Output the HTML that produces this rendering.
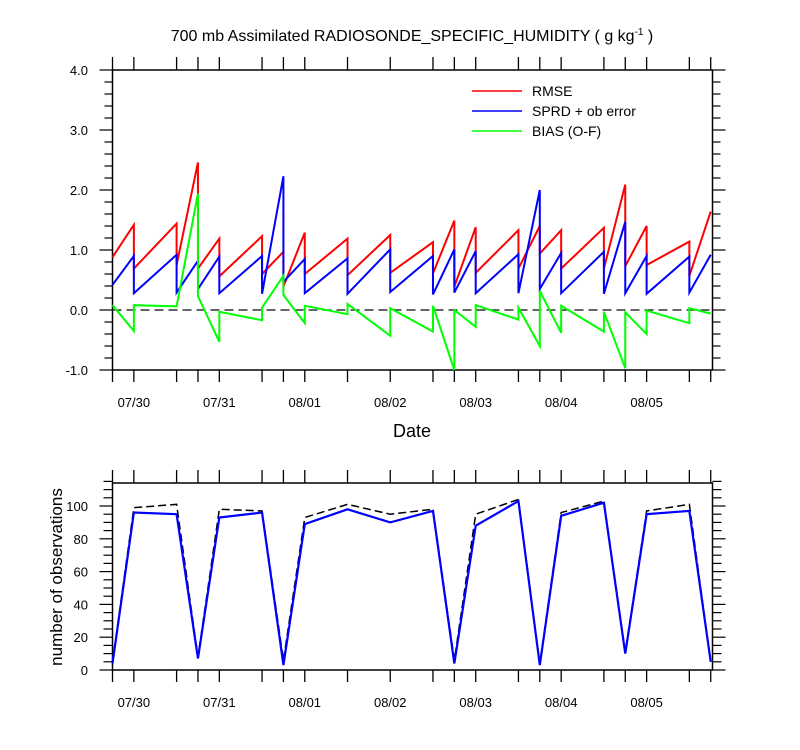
<!DOCTYPE html>
<html><head><meta charset="utf-8"><style>
html,body{margin:0;padding:0;background:#fff;}
svg{display:block;font-family:"Liberation Sans",sans-serif;}
</style></head><body>
<svg id="chart" width="800" height="750" xmlns="http://www.w3.org/2000/svg">
<text x="412" y="41" text-anchor="middle" font-size="16">700 mb Assimilated RADIOSONDE_SPECIFIC_HUMIDITY ( g kg<tspan dy="-6" font-size="10">-1</tspan><tspan dy="6"> )</tspan></text>
<g id="topchart"></g><g id="botchart"></g>
<text x="412" y="437" text-anchor="middle" font-size="18">Date</text>
<text transform="translate(62,577) rotate(-90)" text-anchor="middle" font-size="17">number of observations</text>
<g>
<line x1="472" y1="91" x2="522" y2="91" stroke="#f00" stroke-width="1.5"/><text x="532" y="96" font-size="14">RMSE</text>
<line x1="472" y1="111" x2="522" y2="111" stroke="#00f" stroke-width="1.5"/><text x="532" y="116" font-size="14">SPRD + ob error</text>
<line x1="472" y1="131" x2="522" y2="131" stroke="#0f0" stroke-width="1.5"/><text x="532" y="136" font-size="14">BIAS (O-F)</text>
</g>
</svg>
<script>
// hours since 07/29 18Z
const hours=[0,6,18,24,30,42,48,54,66,78,90,96,102,114,120,126,138,144,150,162,168];
const dateLabels=["07/30","07/31","08/01","08/02","08/03","08/04","08/05"];
const dateHours=[6,30,54,78,102,126,150];
// sawtooth: value at start and end of each interval
const rmseStart=[0.88,0.69,0.75,0.69,0.56,0.60,0.39,0.60,0.58,0.62,0.61,0.39,0.62,0.69,0.94,0.69,0.69,0.73,0.75,0.57];
const rmseEnd=[1.42,1.44,2.46,1.19,1.23,0.97,1.29,1.19,1.25,1.13,1.49,1.38,1.33,1.40,1.33,1.37,2.09,1.40,1.14,1.64];
const sprdStart=[0.42,0.28,0.29,0.35,0.28,0.27,0.47,0.28,0.27,0.30,0.26,0.29,0.28,0.28,0.35,0.28,0.27,0.28,0.27,0.29];
const sprdEnd=[0.90,0.92,0.82,0.89,0.90,2.23,0.85,0.86,1.01,0.90,1.01,0.98,0.93,2.00,0.95,0.97,1.47,0.90,0.89,0.92];
const biasStart=[0.08,0.08,0.06,0.23,-0.03,0.04,0.25,0.07,0.10,0.03,0.07,0.00,0.08,0.04,0.32,0.07,-0.03,-0.04,-0.01,0.03];
const biasEnd=[-0.35,0.06,1.94,-0.53,-0.17,0.57,-0.22,-0.07,-0.43,-0.36,-1.00,-0.28,-0.16,-0.60,-0.38,-0.36,-0.97,-0.40,-0.22,-0.06];
const obsUsed=[4,96,95,7,93,96,3,89,98,90,97,4,88,103,3,94,102,10,95,97,5];
const obsPoss=[5,99,101,8,98,97,6,93,101,95,98,6,95,104,4,96,103,11,97,101,5];
const topYTicks=["-1.0","0.0","1.0","2.0","3.0","4.0"];
const botYTicks=[0,20,40,60,80,100];

const NS="http://www.w3.org/2000/svg";
const X0=112.5,X1=712.5;
const xs=h=>X0+h*(X1-X0)/168.5;
const yT=v=>310-v*60;
const yB=v=>670-v*1.64;
function mk(p,tag,a){const e=document.createElementNS(NS,tag);for(const k in a)e.setAttribute(k,a[k]);p.appendChild(e);return e;}
const gTop=document.getElementById('topchart'),gBot=document.getElementById('botchart');

function frame(g,yTop,yBot,name){
  const r=mk(g,'rect',{x:X0,y:yTop,width:X1-X0,height:yBot-yTop,fill:'none',stroke:'#000','stroke-width':1.5});
  
  
  hours.forEach(h=>{
    const x=xs(h);
    mk(g,'line',{x1:x,y1:yTop,x2:x,y2:yTop-13,stroke:'#000','stroke-width':1.3});
    mk(g,'line',{x1:x,y1:yBot,x2:x,y2:yBot+12,stroke:'#000','stroke-width':1.3});
  });
  dateLabels.forEach((d,i)=>{
    const t=mk(g,'text',{x:xs(dateHours[i]),y:yBot+37,'text-anchor':'middle','font-size':13});
    
    
    t.textContent=d;
  });
}
// top chart
frame(gTop,70,370,'top-plot');
for(let k=0;k<=25;k++){
  const v=-1+k*0.2;
  const y=yT(v);const L=(k%5===0)?13:8;
  mk(gTop,'line',{x1:X0,y1:y,x2:X0-L,y2:y,stroke:'#000','stroke-width':1.2});
  mk(gTop,'line',{x1:X1,y1:y,x2:X1+L,y2:y,stroke:'#000','stroke-width':1.2});
}
topYTicks.forEach(s=>{
  const t=mk(gTop,'text',{x:88,y:yT(parseFloat(s))+5,'text-anchor':'end','font-size':13});
  
  
  t.textContent=s;
});
const zl=mk(gTop,'line',{x1:X0,y1:yT(0),x2:X1,y2:yT(0),stroke:'#333','stroke-width':1.5,'stroke-dasharray':'9,5'});


function saw(st,en,col,name){
  let d='';
  for(let i=0;i<st.length;i++){
    d+=(i?'L':'M')+xs(hours[i])+','+yT(st[i])+'L'+xs(hours[i+1])+','+yT(en[i]);
  }
  const p=mk(gTop,'path',{d:d,fill:'none',stroke:col,'stroke-width':2});
  
  
}
saw(rmseStart,rmseEnd,'#f00','rmse-line');
saw(sprdStart,sprdEnd,'#00f','sprd-line');
saw(biasStart,biasEnd,'#0f0','bias-line');

// bottom chart
frame(gBot,483,670,'bottom-plot');
for(let v=0;v<=115;v+=5){
  const y=yB(v);const L=(v%20===0)?13:9;
  mk(gBot,'line',{x1:X0,y1:y,x2:X0-L,y2:y,stroke:'#000','stroke-width':1.2});
  mk(gBot,'line',{x1:X1,y1:y,x2:X1+L,y2:y,stroke:'#000','stroke-width':1.2});
}
botYTicks.forEach(v=>{
  const t=mk(gBot,'text',{x:88,y:yB(v)+5,'text-anchor':'end','font-size':13});
  
  
  t.textContent=v;
});
function line(vals,attrs,name){
  const d=vals.map((v,i)=>(i?'L':'M')+xs(hours[i])+','+yB(v)).join('');
  const p=mk(gBot,'path',Object.assign({d:d,fill:'none'},attrs));
  
  
}
line(obsPoss,{stroke:'#000','stroke-width':1.5,'stroke-dasharray':'8,4'},'obs-possible-line');
line(obsUsed,{stroke:'#00f','stroke-width':2.2},'obs-used-line');
</script>
</body></html>
